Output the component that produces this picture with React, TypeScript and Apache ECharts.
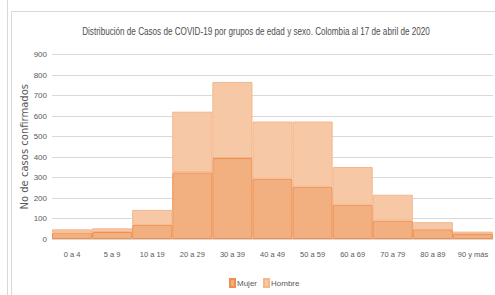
import React, { useEffect, useRef } from "react";
import * as echarts from "echarts";

const categories = ["0 a 4", "5 a 9", "10 a 19", "20 a 29", "30 a 39", "40 a 49", "50 a 59", "60 a 69", "70 a 79", "80 a 89", "90 y más"];
const mujer = [31, 34, 69, 325, 395, 294, 255, 167, 90, 47, 24];
const hombre = [16, 18, 73, 296, 371, 279, 318, 184, 126, 35, 12];
const yTicks = { min: 0, max: 900, interval: 100 };
const titleText = "Distribución de Casos de COVID-19 por grupos de edad y sexo. Colombia al 17 de abril de 2020";

const SANS = "'Liberation Sans', Arial, sans-serif";

export default function App() {
  const ref = useRef<HTMLDivElement>(null);
  useEffect(() => {
    if (!ref.current) return;
    const chart = echarts.init(ref.current, null, { renderer: "svg" });
    chart.setOption({
      animation: false,
      backgroundColor: "#ffffff",
      graphic: [
        { type: "line", shape: { x1: 7.5, y1: 0, x2: 7.5, y2: 295 }, style: { stroke: "#d9d9d9", lineWidth: 1 } },
        { type: "line", shape: { x1: 11.5, y1: 11.5, x2: 495, y2: 11.5 }, style: { stroke: "#d9d9d9", lineWidth: 1 } },
        { type: "line", shape: { x1: 11.5, y1: 11.5, x2: 11.5, y2: 295 }, style: { stroke: "#d9d9d9", lineWidth: 1 } },
        {
          type: "text",
          x: 256,
          y: 31,
          scaleX: 0.74,
          style: {
            text: titleText,
            x: 0,
            y: 0,
            align: "center",
            verticalAlign: "middle",
            fontFamily: SANS,
            fontSize: 11,
            fill: "#4d4d4d",
          },
        },
      ],
      legend: {
        data: ["Mujer", "Hombre"],
        top: 273,
        left: 224,
        itemWidth: 5,
        itemHeight: 8,
        itemGap: 6,
        icon: "rect",
        textStyle: { fontFamily: SANS, fontSize: 8, color: "#595959", padding: [0, 0, 0, -3] },
      },
      grid: { left: 52, right: 2, top: 54.5, bottom: 56 },
      xAxis: {
        type: "category",
        data: categories,
        axisLine: { lineStyle: { color: "#d9d9d9" } },
        axisTick: { show: false },
        axisLabel: { fontFamily: SANS, fontSize: 7.5, color: "#595959", margin: 11, interval: 0 },
      },
      yAxis: {
        type: "value",
        min: yTicks.min,
        max: yTicks.max,
        interval: yTicks.interval,
        name: "No de casos confirmados",
        nameLocation: "middle",
        nameGap: 23,
        nameMoveOverlap: false,
        nameTextStyle: { fontFamily: "'DejaVu Sans', sans-serif", fontSize: 10, color: "#595959" },
        axisLine: { show: false },
        axisTick: { show: false },
        axisLabel: { fontFamily: SANS, fontSize: 8, color: "#595959", margin: 5 },
        splitLine: { lineStyle: { color: "#d9d9d9" } },
      },
      series: [
        {
          name: "Mujer",
          type: "bar",
          stack: "total",
          data: mujer,
          barCategoryGap: 0,
          itemStyle: { color: "#f2af80", borderColor: "#ee8f4f", borderWidth: 1 },
        },
        {
          name: "Hombre",
          type: "bar",
          stack: "total",
          data: hombre,
          barCategoryGap: 0,
          itemStyle: { color: "#f7c8a6", borderColor: "#f4b68b", borderWidth: 1 },
        },
      ],
    });
    return () => chart.dispose();
  }, []);
  return <div ref={ref} style={{ position: "fixed", left: 0, top: 0, width: 495, height: 295 }} />;
}
